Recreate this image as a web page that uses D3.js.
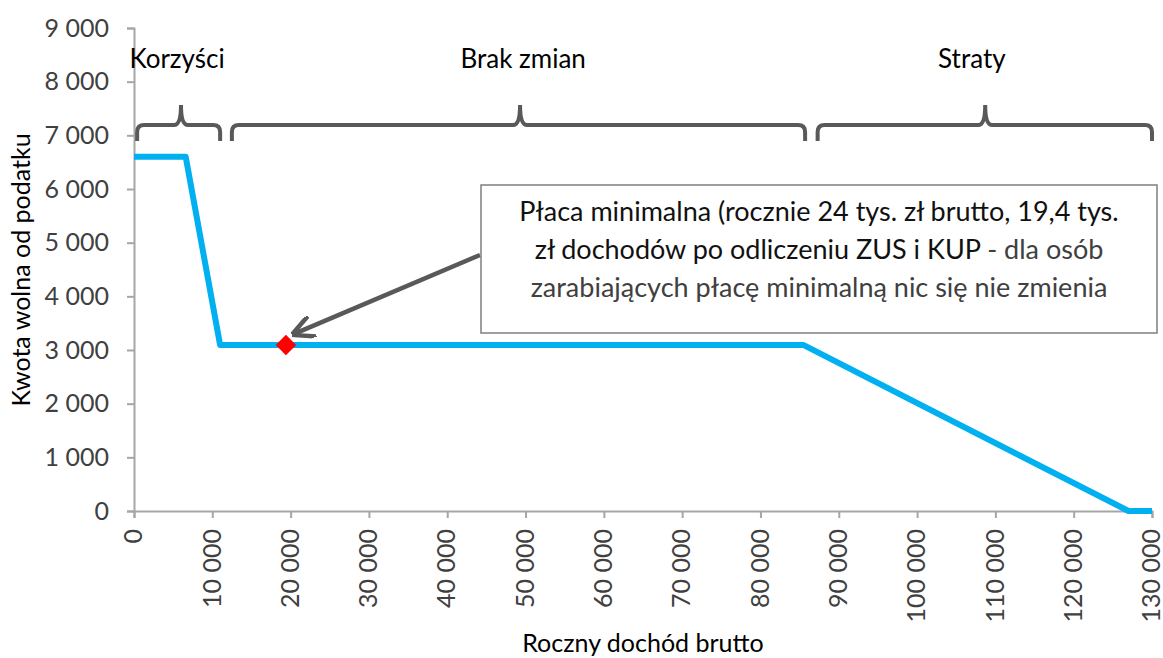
<!DOCTYPE html>
<html>
<head>
<meta charset="utf-8">
<script src="https://cdn.jsdelivr.net/npm/d3@7"></script>
<style>
  body { margin: 0; background: #fff; }
  svg { display: block; font-family: Lato, "Open Sans", sans-serif; }
</style>
</head>
<body>
<svg id="chart" width="1163" height="658"></svg>
<script>
  // kwota wolna od podatku vs roczny dochód
  var incomes = [0, 6600, 11000, 85528, 127000, 130000];
  var allowance = [6600, 6600, 3091, 3091, 0, 0];
  var xTicks = [0, 10000, 20000, 30000, 40000, 50000, 60000, 70000, 80000, 90000, 100000, 110000, 120000, 130000];
  var yTicks = [0, 1000, 2000, 3000, 4000, 5000, 6000, 7000, 8000, 9000];
  var groupNames = ['Korzyści', 'Brak zmian', 'Straty'];
  var groupStart = [400, 12500, 87300];
  var groupEnd = [11000, 85700, 130000];
  var groupTip = [6000, 49300, 108700];
  var groupLabelX = [5500, 49700, 107000];
  var minWage = { x: 19400, y: 3091 };
  var noteLines = [
    [['Płaca minimalna (rocznie 24 tys. zł brutto, 19,4 tys.', '#111']],
    [['zł dochodów po odliczeniu ZUS i KUP', '#111'], [' - dla osób', '#404040']],
    [['zarabiających płacę minimalną nic się nie zmienia', '#404040']]
  ];

  var svg = d3.select('#chart');
  var mLeft = 134, mRight = 1152, mTop = 28, mBottom = 511;

  var x = d3.scaleLinear().domain([0, 130000]).range([mLeft, mRight]);
  var y = d3.scaleLinear().domain([0, 9000]).range([mBottom, mTop]);

  var fmt = function (d) { return d3.format(',')(d).replace(/,/g, ' '); };

  var axisColor = '#a6a6a6';

  // y axis
  var yAxis = svg.append('g')
      .attr('transform', 'translate(' + mLeft + ',0)')
      .call(d3.axisLeft(y).tickValues(yTicks).tickSize(7).tickPadding(18).tickFormat(fmt));
  yAxis.select('.domain').attr('stroke', axisColor).attr('stroke-width', 2);
  yAxis.selectAll('.tick line').attr('stroke', axisColor).attr('stroke-width', 2);
  yAxis.selectAll('.tick text')
      .attr('fill', '#404040')
      .style('font-size', '25px')
      .style('font-family', 'Lato, sans-serif');

  // x axis
  var xAxis = svg.append('g')
      .attr('transform', 'translate(0,' + mBottom + ')')
      .call(d3.axisBottom(x).tickValues(xTicks).tickSize(7).tickFormat(fmt));
  xAxis.select('.domain').attr('stroke', axisColor).attr('stroke-width', 2);
  xAxis.selectAll('.tick line').attr('stroke', axisColor).attr('stroke-width', 2);
  xAxis.selectAll('.tick text')
      .attr('fill', '#404040')
      .attr('transform', 'rotate(-90)')
      .attr('x', -18)
      .attr('y', -1)
      .attr('dy', '0.35em')
      .attr('text-anchor', 'end')
      .style('font-size', '25px')
      .style('font-family', 'Lato, sans-serif');

  // axis titles
  svg.append('text')
      .attr('transform', 'translate(30,' + 270 + ') rotate(-90)')
      .attr('text-anchor', 'middle')
      .attr('fill', '#000')
      .style('font-size', '25px')
      .text('Kwota wolna od podatku');

  svg.append('text')
      .attr('x', 643)
      .attr('y', 652)
      .attr('text-anchor', 'middle')
      .attr('fill', '#000')
      .style('font-size', '25px')
      .text('Roczny dochód brutto');

  // series line
  var pts = incomes.map(function (d, i) { return [d, allowance[i]]; });
  svg.append('path')
      .datum(pts)
      .attr('fill', 'none')
      .attr('stroke', '#00b0f0')
      .attr('stroke-width', 6)
      .attr('stroke-linejoin', 'round')
      .attr('d', d3.line().x(function (d) { return x(d[0]); }).y(function (d) { return y(d[1]); }));

  // braces
  var braceTop = 125, braceEnd = 141, tipY = 105, r = 7;
  groupNames.forEach(function (name, i) {
    var x0 = x(groupStart[i]), x1 = x(groupEnd[i]), xm = x(groupTip[i]);
    var p = 'M' + x0 + ',' + braceEnd +
        ' L' + x0 + ',' + (braceTop + r) +
        ' Q' + x0 + ',' + braceTop + ' ' + (x0 + r) + ',' + braceTop +
        ' L' + (xm - r) + ',' + braceTop +
        ' Q' + xm + ',' + braceTop + ' ' + xm + ',' + tipY +
        ' Q' + xm + ',' + braceTop + ' ' + (xm + r) + ',' + braceTop +
        ' L' + (x1 - r) + ',' + braceTop +
        ' Q' + x1 + ',' + braceTop + ' ' + x1 + ',' + (braceTop + r) +
        ' L' + x1 + ',' + braceEnd;
    svg.append('path')
        .attr('d', p)
        .attr('fill', 'none')
        .attr('stroke', '#595959')
        .attr('stroke-width', 4);

    svg.append('text')
        .attr('x', x(groupLabelX[i]))
        .attr('y', 68)
        .attr('text-anchor', 'middle')
        .attr('fill', '#000')
        .style('font-size', '26px')
        .text(name);
  });

  // arrow from note box to minimum wage point
  var defs = svg.append('defs');
  defs.append('marker')
      .attr('id', 'arrowhead')
      .attr('viewBox', '0 0 10 10')
      .attr('refX', 8)
      .attr('refY', 5)
      .attr('markerWidth', 5)
      .attr('markerHeight', 5)
      .attr('orient', 'auto')
      .append('path')
      .attr('d', 'M0,0 L10,5 L0,10')
      .attr('fill', 'none')
      .attr('stroke', '#595959')
      .attr('stroke-width', 2);

  svg.append('line')
      .attr('x1', 480)
      .attr('y1', 255)
      .attr('x2', x(minWage.x) + 10)
      .attr('y2', y(minWage.y) - 12)
      .attr('stroke', '#595959')
      .attr('stroke-width', 4.5)
      .attr('marker-end', 'url(#arrowhead)');

  // red diamond marker
  svg.append('path')
      .attr('d', d3.symbol().type(d3.symbolSquare).size(210))
      .attr('transform', 'translate(' + x(minWage.x) + ',' + y(minWage.y) + ') rotate(45)')
      .attr('fill', '#ff0000');

  // note box
  svg.append('rect')
      .attr('x', 481)
      .attr('y', 185)
      .attr('width', 676)
      .attr('height', 148)
      .attr('fill', '#fff')
      .attr('stroke', '#7f7f7f')
      .attr('stroke-width', 1.5);

  noteLines.forEach(function (parts, i) {
    var t = svg.append('text')
        .attr('x', 819)
        .attr('y', 221 + i * 38)
        .attr('text-anchor', 'middle')
        .style('font-size', '27px');
    parts.forEach(function (p) {
      t.append('tspan').attr('fill', p[1]).text(p[0]);
    });
  });
</script>
</body>
</html>
